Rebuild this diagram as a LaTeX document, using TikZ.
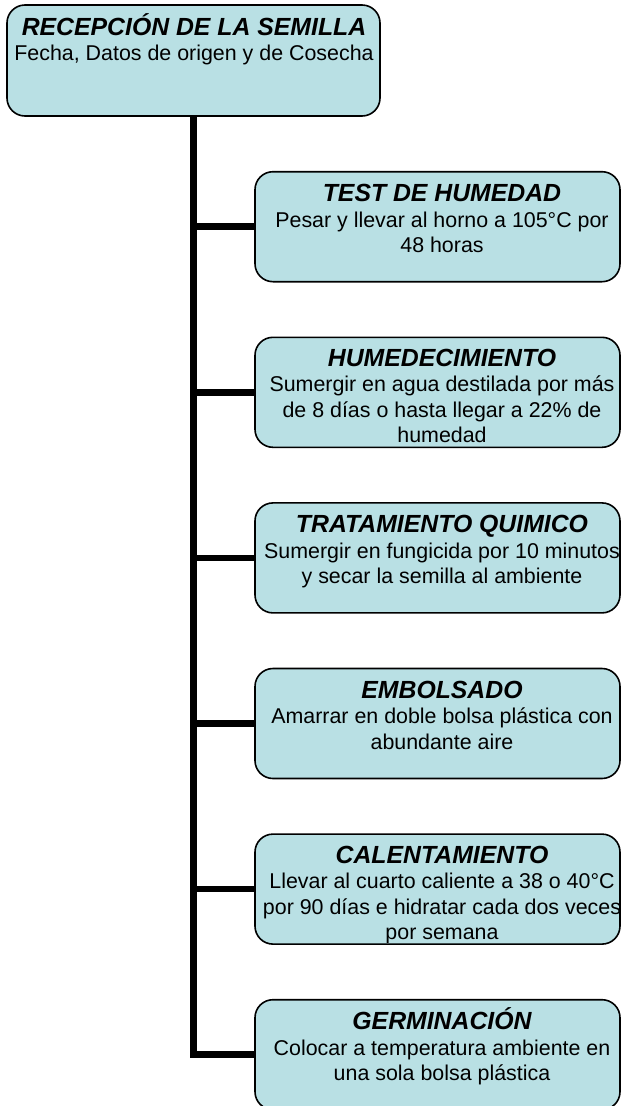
\documentclass[tikz,border=0pt]{standalone}
\usepackage{fontspec}
\setmainfont{Liberation Sans}
\definecolor{boxfill}{RGB}{185,224,228}
\tikzset{
  stage/.style={draw=black, line width=1.6pt, fill=boxfill, rounded corners=18pt,
    minimum width=365pt, minimum height=110pt, inner sep=0pt},
  link/.style={line width=6.5pt},
  txt/.style={anchor=base, inner sep=0pt},
}
\newcommand{\stagetitle}[1]{{\fontsize{24.8}{25.3}\selectfont\bfseries\itshape #1}}
\newcommand{\stagetext}[1]{\fontsize{21.4}{25.3}\selectfont\begin{tabular}[t]{@{}c@{}}#1\end{tabular}}
\begin{document}
\begin{tikzpicture}[x=1pt,y=-1pt]
\useasboundingbox (0,0) rectangle (621,1106);
\clip (0,0) rectangle (621,1106);
% boxes
\node[stage, minimum width=373pt, minimum height=111pt] (rec) at (193.5,60.5) {};
\node[stage] (test) at (437.5,226.7) {};
\node[stage] (hum) at (437.5,392.3) {};
\node[stage] (trat) at (437.5,557.9) {};
\node[stage] (emb) at (437.5,723.5) {};
\node[stage] (cal) at (437.5,889.1) {};
\node[stage] (germ) at (437.5,1054.7) {};
% connectors
\draw[link] (rec.south) -- (rec.south |- germ.west) -- (germ.west);
\draw[link] (rec.south |- test.west) -- (test.west);
\draw[link] (rec.south |- hum.west) -- (hum.west);
\draw[link] (rec.south |- trat.west) -- (trat.west);
\draw[link] (rec.south |- emb.west) -- (emb.west);
\draw[link] (rec.south |- cal.west) -- (cal.west);
% texts
\node[txt] (rect) at (194,35) {\stagetext{\stagetitle{RECEPCIÓN DE LA SEMILLA}\\
  Fecha, Datos de origen y de Cosecha}};
\node[txt] (testt) at (442,201.7) {\stagetext{\stagetitle{TEST DE HUMEDAD}\\
  Pesar y llevar al horno a 105°C por\\ 48 horas}};
\node[txt] (humt) at (442,366.5) {\stagetext{\stagetitle{HUMEDECIMIENTO}\\
  Sumergir en agua destilada por más\\ de 8 días o hasta llegar a 22\% de\\ humedad}};
\node[txt] (tratt) at (442,532.9) {\stagetext{\stagetitle{TRATAMIENTO QUIMICO}\\
  Sumergir en fungicida por 10 minutos\\ y secar la semilla al ambiente}};
\node[txt] (embt) at (442,698.5) {\stagetext{\stagetitle{EMBOLSADO}\\
  Amarrar en doble bolsa plástica con\\ abundante aire}};
\begin{scope}
\clip ([yshift=-1pt]cal.north west) rectangle ([yshift=2pt]cal.south east);
\node[txt] (calt) at (442,863.5) {\stagetext{\stagetitle{CALENTAMIENTO}\\
  Llevar al cuarto caliente a 38 o 40°C\\ por 90 días e hidratar cada dos veces\\ por semana}};
\end{scope}
\node[txt] (germt) at (442,1029.7) {\stagetext{\stagetitle{GERMINACIÓN}\\
  Colocar a temperatura ambiente en\\ una sola bolsa plástica}};
\end{tikzpicture}
\end{document}
